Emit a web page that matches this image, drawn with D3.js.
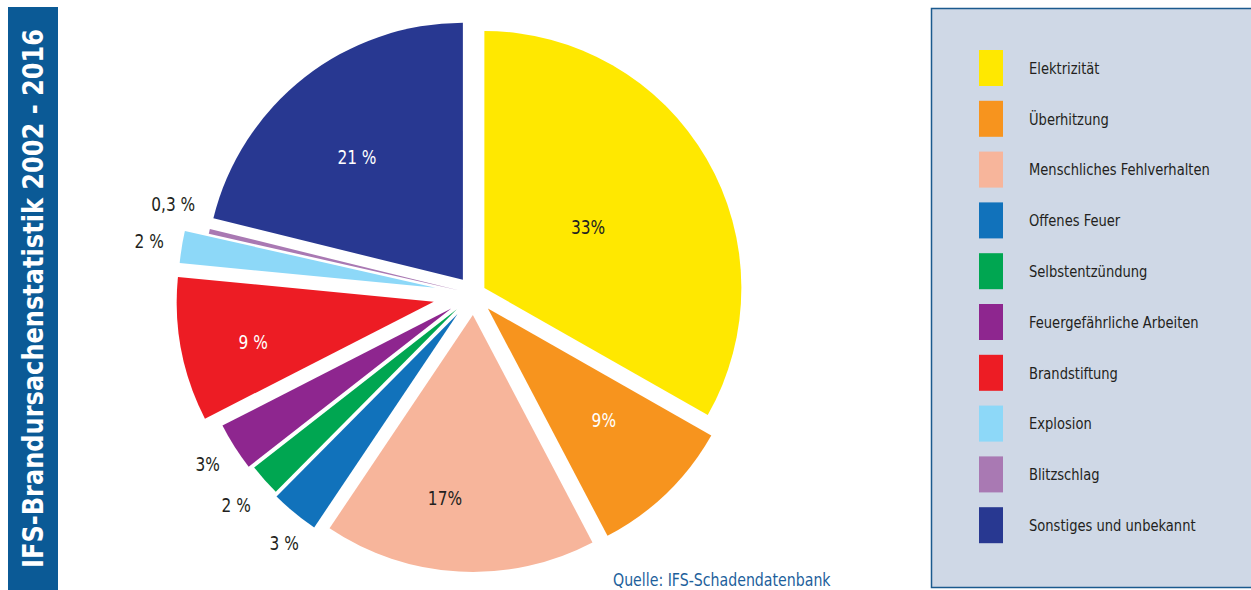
<!DOCTYPE html>
<html>
<head>
<meta charset="utf-8">
<script src="https://cdn.jsdelivr.net/npm/d3@7"></script>
<style>
  html, body { margin: 0; padding: 0; background: #fff; }
  svg { display: block; }
  .cond { font-family: "DejaVu Sans Condensed", "Open Sans", sans-serif; }
</style>
</head>
<body>
<div id="chart"></div>
<script>
// data
const categories = [
    "Elektrizität", "Überhitzung", "Menschliches Fehlverhalten", "Offenes Feuer",
    "Selbstentzündung", "Feuergefährliche Arbeiten", "Brandstiftung", "Explosion",
    "Blitzschlag", "Sonstiges und unbekannt"
];
const shares = [33, 9, 17, 3, 2, 3, 9, 2, 0.3, 21];
const shareLabels = ["33%", "9%", "17%", "3 %", "2 %", "3%", "9 %", "2 %", "0,3 %", "21 %"];

const title = "IFS-Brandursachenstatistik 2002 - 2016";
const source = "Quelle: IFS-Schadendatenbank";

// styling
const colors = ["#ffe800", "#f7941e", "#f7b59b", "#1172bb", "#00a651",
                "#8e268f", "#ed1c24", "#8dd8f8", "#a979b3", "#283891"];
const explode = [12, 20, 21, 26, 23, 27, 41, 39, 15, 18];   // how far each slice is pulled out
const labelRadius = [120, 161, 185, 287, 295, 289, 185, 290, 299, 162];
const labelTurn = [0, -2, 5.6, -2.2, 0, 0, -1.8, 0, 3.5, -2.8]; // degrees off the slice middle
const labelColor = ["#231f20", "#fff", "#231f20", "#231f20", "#231f20",
                    "#231f20", "#fff", "#231f20", "#231f20", "#fff"];

const width = 1251, height = 590;
const cx = 474, cy = 294, radius = 257;
const squeeze = 0.9; // narrow the text a little, the original uses a condensed face

const svg = d3.select("#chart").append("svg")
    .attr("width", width)
    .attr("height", height);

// vertical title band
svg.append("rect")
    .attr("x", 8).attr("y", 7)
    .attr("width", 50).attr("height", height - 7)
    .attr("fill", "#0b5a96");

svg.append("text")
    .attr("class", "cond")
    .attr("transform", `translate(43, ${(height + 7) / 2}) rotate(-90)`)
    .attr("text-anchor", "middle")
    .attr("fill", "#fff")
    .attr("textLength", 539)
    .attr("lengthAdjust", "spacingAndGlyphs")
    .style("font-size", "28px")
    .style("font-weight", "bold")
    .text(title);

// pie
const pie = d3.pie().sort(null).value(d => d);
const arcs = pie(shares);
const arc = d3.arc().innerRadius(0).outerRadius(radius);

const g = svg.append("g").attr("transform", `translate(${cx}, ${cy})`);

const slices = g.selectAll("g.slice")
    .data(arcs)
    .join("g")
    .attr("class", "slice")
    .attr("transform", (d, i) => {
        const mid = (d.startAngle + d.endAngle) / 2;
        return `translate(${Math.sin(mid) * explode[i]}, ${-Math.cos(mid) * explode[i]})`;
    });

slices.append("path")
    .attr("d", arc)
    .attr("fill", (d, i) => colors[i]);

slices.append("text")
    .attr("class", "cond")
    .attr("transform", (d, i) => {
        const a = (d.startAngle + d.endAngle) / 2 + labelTurn[i] * Math.PI / 180;
        const x = Math.sin(a) * labelRadius[i];
        const y = -Math.cos(a) * labelRadius[i];
        return `translate(${x}, ${y}) scale(${squeeze}, 1)`;
    })
    .attr("text-anchor", "middle")
    .attr("dy", "0.35em")
    .attr("fill", (d, i) => labelColor[i])
    .style("font-size", "19px")
    .text((d, i) => shareLabels[i]);

// source
svg.append("text")
    .attr("class", "cond")
    .attr("transform", `translate(613, 586) scale(${squeeze}, 1)`)
    .attr("fill", "#1d5f9c")
    .style("font-size", "17.5px")
    .text(source);

// legend box
svg.append("rect")
    .attr("x", 931.5).attr("y", 8.5)
    .attr("width", 330).attr("height", 579)
    .attr("fill", "#cfd8e6")
    .attr("stroke", "#1b5a8e")
    .attr("stroke-width", 1.5);

const legend = svg.append("g").attr("transform", "translate(979, 50)");
const rowStep = 50.8;

const rows = legend.selectAll("g")
    .data(categories)
    .join("g")
    .attr("transform", (d, i) => `translate(0, ${i * rowStep})`);

rows.append("rect")
    .attr("width", 24).attr("height", 36)
    .attr("fill", (d, i) => colors[i]);

rows.append("text")
    .attr("class", "cond")
    .attr("transform", `translate(50, 18) scale(${squeeze * 0.98}, 1)`)
    .attr("dy", "0.35em")
    .attr("fill", "#231f20")
    .style("font-size", "16.5px")
    .text(d => d);
</script>
</body>
</html>
